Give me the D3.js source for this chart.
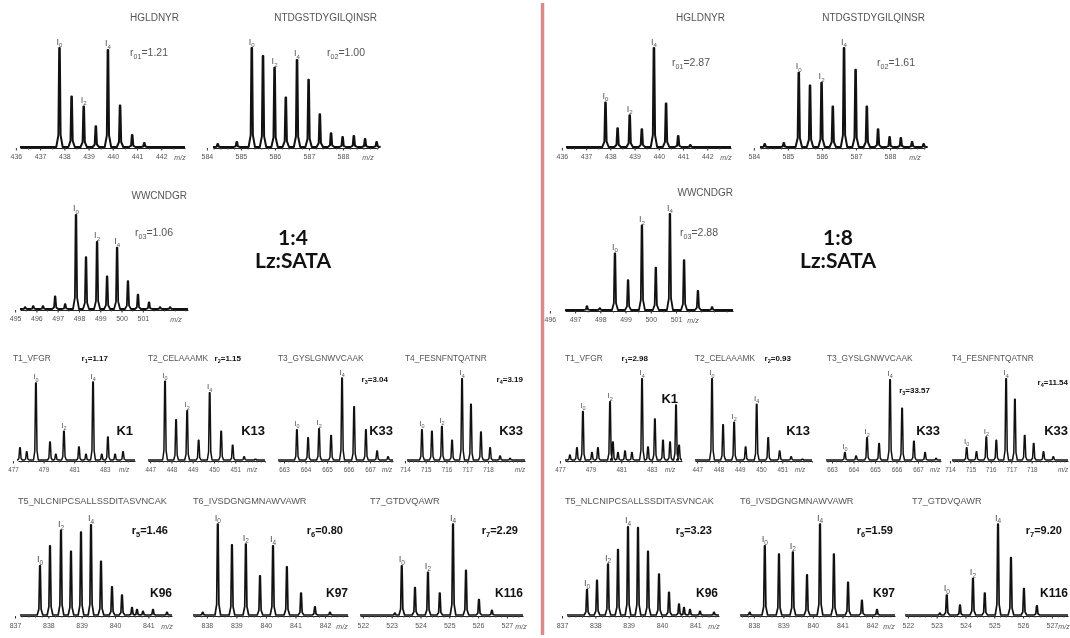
<!DOCTYPE html>
<html>
<head>
<meta charset="utf-8">
<script src="https://cdn.jsdelivr.net/npm/d3@7"></script>
<style>
  body { margin: 0; background: #fff; }
  svg { display: block; will-change: transform; }
</style>
</head>
<body>
<svg id="fig" width="1070" height="638"></svg>
<script>
// peptide names, ratios and modified sites
const peptides = ['HGLDNYR', 'NTDGSTDYGILQINSR', 'WWCNDGR', 'T1_VFGR', 'T2_CELAAAMK', 'T3_GYSLGNWVCAAK',
    'T4_FESNFNTQATNR', 'T5_NLCNIPCSALLSSDITASVNCAK', 'T6_IVSDGNGMNAWVAWR', 'T7_GTDVQAWR'];
const rSubs = ['01', '02', '03', '1', '2', '3', '4', '5', '6', '7'];
const ratios14 = ['1.21', '1.00', '1.06', '1.17', '1.15', '3.04', '3.19', '1.46', '0.80', '2.29'];
const ratios18 = ['2.87', '1.61', '2.88', '2.98', '0.93', '33.57', '11.54', '3.23', '1.59', '9.20'];
const sites = [null, null, null, 'K1', 'K13', 'K33', 'K33', 'K96', 'K97', 'K116'];

// peak m/z values and relative intensities (1:4 = left, 1:8 = right)
const hgMz = [437.8, 438.3, 438.8, 439.3, 439.8, 440.3, 440.8, 441.3];
const hg14 = [100, 51, 41, 21, 98, 42, 12, 4];
const hg18 = [45, 19, 32, 18, 100, 44, 11, 2];

const ntMz = [584.32, 584.88, 585.32, 585.65, 585.99, 586.32, 586.65, 586.99, 587.32, 587.65, 587.99, 588.32, 588.65, 588.99];
const nt14 = [3, 5, 100, 92, 80, 50, 88, 68, 33, 14, 10, 11, 8, 5];
const nt18 = [3, 4, 75, 62, 65, 41, 100, 78, 41, 18, 10, 9, 5, 3];

const wwMz14 = [495.47, 495.85, 496.31, 496.88, 497.35, 497.86, 498.33, 498.85, 499.32, 499.79, 500.3, 500.77, 501.29, 501.81, 502.28];
const ww14 = [2, 3, 3, 13, 5, 98, 54, 70, 34, 64, 29, 15, 7, 2, 2];
const wwMz18 = [497.47, 497.98, 498.58, 499.1, 499.65, 500.2, 500.76, 501.32, 501.87, 502.43];
const ww18 = [4, 2, 59, 31, 88, 44, 100, 52, 20, 3];

const t1Mz14 = [477.46, 477.9, 478.5, 479.42, 479.8, 480.33, 481.31, 481.77, 482.23, 482.8, 483.2, 483.67, 484.19];
const t1_14 = [15, 10, 94, 22, 7, 35, 16, 7, 95, 7, 28, 7, 10];
const t1Mz18 = [477.65, 478.11, 478.5, 479.09, 479.48, 480.27, 480.46, 480.79, 481.25, 481.7, 482.36, 482.75, 483.2, 483.73, 484.19, 484.58, 484.78];
const t1_18 = [6, 15, 59, 9, 15, 71, 22, 9, 11, 9, 99, 16, 50, 24, 22, 67, 18];

const t2Mz = [447.7, 448.22, 448.74, 449.28, 449.8, 450.34, 450.88, 451.42, 451.95];
const t2_14 = [96, 49, 60, 24, 82, 35, 18, 4, 1];
const t2_18 = [99, 43, 46, 16, 68, 27, 11, 4, 1];

const t3Mz = [663.6, 664.12, 664.63, 665.19, 665.7, 666.26, 666.81, 667.33, 667.84];
const t3_14 = [37, 27, 38, 30, 100, 65, 37, 11, 4];
const t3_18 = [9, 5, 27, 20, 98, 63, 23, 9, 2];

const t4Mz = [714.82, 715.3, 715.78, 716.27, 716.75, 717.18, 717.66, 718.1, 718.58, 719.06];
const t4_14 = [37, 35, 41, 24, 99, 68, 34, 15, 5, 2];
const t4_18 = [15, 10, 28, 24, 99, 74, 30, 20, 10, 4];

const t5Mz = [837.75, 838.05, 838.38, 838.68, 838.98, 839.28, 839.58, 839.91, 840.21, 840.51, 840.66, 840.84, 841.14, 841.56];
const t5_14 = [54, 76, 93, 70, 91, 99, 59, 31, 22, 8, 6, 4, 6, 3];
const t5_18 = [28, 38, 56, 72, 97, 96, 70, 45, 25, 12, 8, 6, 4, 3];

const t6Mz = [837.86, 838.37, 838.85, 839.32, 839.8, 840.24, 840.71, 841.19, 841.66, 842.17];
const t6_14 = [3, 100, 77, 78, 43, 76, 53, 24, 9, 3];
const t6_18 = [3, 76, 67, 69, 44, 100, 67, 36, 16, 6];

const t7Mz = [523.11, 523.35, 523.81, 524.26, 524.67, 525.13, 525.58, 526.03, 526.48];
const t7_14 = [2, 54, 30, 47, 24, 100, 49, 17, 5];
const t7_18 = [2, 22, 11, 40, 24, 100, 63, 29, 10];

// which peaks carry the I0 / I2 / I4 labels
const labIdx14 = [[0, 2, 4], [2, 4, 6], [5, 7, 9], [2, 5, 8], [0, 2, 4], [0, 2, 4], [0, 2, 4], [0, 2, 5], [1, 3, 5], [1, 3, 5]];
const labIdx18 = [[0, 2, 4], [2, 4, 6], [2, 4, 6], [2, 5, 10], [0, 2, 4], [0, 2, 4], [0, 2, 4], [0, 2, 4], [1, 3, 5], [1, 3, 5]];

// x axis ticks and m/z windows
const hgTicks = [436, 437, 438, 439, 440, 441, 442];
const ntTicks = [584, 585, 586, 587, 588];
const wwTicks14 = [495, 496, 497, 498, 499, 500, 501];
const wwTicks18 = [496, 497, 498, 499, 500, 501];
const t1Ticks = [477, 479, 481, 483];
const t2Ticks = [447, 448, 449, 450, 451];
const t3Ticks = [663, 664, 665, 666, 667];
const t4Ticks = [714, 715, 716, 717, 718];
const t5Ticks = [837, 838, 839, 840, 841];
const t6Ticks = [838, 839, 840, 841, 842];
const t7Ticks = [522, 523, 524, 525, 526, 527];
const windows14 = [[436.17, 442.98], [584.18, 589.03], [495.23, 503.12], [477.33, 484.97], [446.9, 452.4],
    [662.72, 668.07], [714.1, 719.78], [837.15, 841.71], [837.53, 842.78], [521.9, 527.56]];
const windows18 = windows14.map((w, i) => i === 2 ? [496.6, 503.26] : w);

const mzSets14 = [hgMz, ntMz, wwMz14, t1Mz14, t2Mz, t3Mz, t4Mz, t5Mz, t6Mz, t7Mz];
const mzSets18 = [hgMz, ntMz, wwMz18, t1Mz18, t2Mz, t3Mz, t4Mz, t5Mz, t6Mz, t7Mz];
const int14 = [hg14, nt14, ww14, t1_14, t2_14, t3_14, t4_14, t5_14, t6_14, t7_14];
const int18 = [hg18, nt18, ww18, t1_18, t2_18, t3_18, t4_18, t5_18, t6_18, t7_18];
const ticks14 = [hgTicks, ntTicks, wwTicks14, t1Ticks, t2Ticks, t3Ticks, t4Ticks, t5Ticks, t6Ticks, t7Ticks];
const ticks18 = [hgTicks, ntTicks, wwTicks18, t1Ticks, t2Ticks, t3Ticks, t4Ticks, t5Ticks, t6Ticks, t7Ticks];

// ---- layout (pixels) ----
// r: [x0, x1], b: baseline, mz: m/z label x, t: title [x, y, anchor], q: ratio [x, y, anchor], k: site [x, y]
const layoutL = [
    {r: [20, 185], b: 147, mz: 180, t: [179, 21, 'end'], q: [130, 56, 'start']},
    {r: [213, 378], b: 147, mz: 368, t: [377, 21, 'end'], q: [327, 56, 'start']},
    {r: [20, 188], b: 309, mz: 176, t: [187, 199, 'end'], q: [135, 236, 'start']},
    {r: [18, 135], b: 460, mz: 124, t: [13, 361, 'start'], q: [108, 361, 'end'], k: [133, 435]},
    {r: [148, 265], b: 460, mz: 252, t: [148, 361, 'start'], q: [241, 361, 'end'], k: [265, 435]},
    {r: [278, 393], b: 460, mz: 387, t: [278, 361, 'start'], q: [388, 382, 'end'], k: [393, 435]},
    {r: [407, 525], b: 460, mz: 520, t: [405, 361, 'start'], q: [523, 382, 'end'], k: [523, 435]},
    {r: [20, 172], b: 615, mz: 167, t: [18, 504, 'start'], q: [168, 534, 'end'], k: [172, 597]},
    {r: [193, 348], b: 615, mz: 342, t: [193, 504, 'start'], q: [343, 534, 'end'], k: [348, 597]},
    {r: [360, 523], b: 615, mz: 521, t: [370, 504, 'start'], q: [518, 534, 'end'], k: [523, 597]}
];
const layoutR = [
    {r: [566, 731], b: 147, mz: 726, t: [725, 21, 'end'], q: [672, 66, 'start']},
    {r: [760, 925], b: 147, mz: 915, t: [925, 21, 'end'], q: [877, 66, 'start']},
    {r: [565, 733], b: 310, mz: 693, t: [733, 196, 'end'], q: [680, 236, 'start']},
    {r: [565, 682], b: 460, mz: 670, t: [565, 361, 'start'], q: [648, 361, 'end'], k: [678, 403]},
    {r: [695, 812], b: 460, mz: 800, t: [695, 361, 'start'], q: [791, 361, 'end'], k: [810, 435]},
    {r: [826, 941], b: 460, mz: 935, t: [827, 361, 'start'], q: [930, 393, 'end'], k: [940, 435]},
    {r: [952, 1068], b: 460, mz: 1063, t: [952, 361, 'start'], q: [1068, 385, 'end'], k: [1068, 435]},
    {r: [567, 719], b: 615, mz: 714, t: [565, 504, 'start'], q: [712, 534, 'end'], k: [718, 597]},
    {r: [740, 895], b: 615, mz: 889, t: [740, 504, 'start'], q: [893, 534, 'end'], k: [895, 597]},
    {r: [905, 1068], b: 615, mz: 1064, t: [912, 504, 'start'], q: [1062, 534, 'end'], k: [1068, 597]}
];
const rowStyles = [
    {h: 99, sw: 2.0, hw: 3.2, tfs: 10, qfs: 10.5, qb: false, kfs: 0, lfs: 7, ifs: 9, pad: 4},
    {h: 96, sw: 1.8, hw: 3.0, tfs: 10, qfs: 10.5, qb: false, kfs: 0, lfs: 7, ifs: 9, pad: 4},
    {h: 82, sw: 1.5, hw: 2.4, tfs: 8.4, qfs: 8, qb: true, kfs: 13, lfs: 6.3, ifs: 8, pad: 4},
    {h: 91, sw: 1.7, hw: 2.8, tfs: 9.2, qfs: 11, qb: true, kfs: 12, lfs: 7, ifs: 9.5, pad: 5}
];
const rowOf = i => i < 2 ? 0 : i === 2 ? 1 : i < 7 ? 2 : 3;
const FONT = '"Liberation Sans", Arial, sans-serif';

const svg = d3.select('#fig');
svg.append('rect').attr('width', 1070).attr('height', 638).attr('fill', '#fff');

function subText(sel, fs, main, sub, rest) {
    sel.append('tspan').text(main);
    sel.append('tspan').attr('font-size', fs * 0.68).attr('dy', fs * 0.28).text(sub);
    if (rest) sel.append('tspan').attr('dy', -fs * 0.28).text(rest);
}

function drawPanel(i, side) {
    const L = side === 'L' ? layoutL[i] : layoutR[i];
    const st = rowStyles[rowOf(i)];
    const mz = side === 'L' ? mzSets14[i] : mzSets18[i];
    const ints = side === 'L' ? int14[i] : int18[i];
    const lab = side === 'L' ? labIdx14[i] : labIdx18[i];
    const ticks = side === 'L' ? ticks14[i] : ticks18[i];
    const win = side === 'L' ? windows14[i] : windows18[i];
    const ratio = side === 'L' ? ratios14[i] : ratios18[i];

    const x = d3.scaleLinear().domain(win).range(L.r);
    const y = d3.scaleLinear().domain([0, 100]).range([L.b, L.b - st.h]);
    const g = svg.append('g').attr('font-family', FONT);

    // axis
    g.append('g')
        .attr('transform', `translate(0,${L.b + 1})`)
        .call(d3.axisBottom(x).ticks(18).tickSize(1.5).tickSizeOuter(0).tickFormat(''))
        .call(a => a.select('.domain').attr('stroke', '#222').attr('stroke-width', 1))
        .call(a => a.selectAll('.tick line').attr('stroke', '#444'));
    g.append('g')
        .attr('transform', `translate(0,${L.b + 1})`)
        .call(d3.axisBottom(x).tickValues(ticks).tickSize(2.5).tickPadding(st.pad).tickFormat(d3.format('d')))
        .call(a => a.select('.domain').remove())
        .call(a => a.selectAll('.tick line').attr('stroke', '#333'))
        .call(a => a.selectAll('.tick text').attr('fill', '#555').attr('font-size', st.lfs).attr('font-family', FONT));
    g.append('text')
        .attr('x', L.mz).attr('y', L.b + 1 + 2.5 + st.pad + st.lfs * 0.71 + 0.5)
        .attr('text-anchor', 'middle').attr('font-size', st.lfs).attr('font-style', 'italic')
        .attr('fill', '#555').text('m/z');

    // spectrum trace
    const pts = [[L.r[0], L.b]];
    mz.forEach((m, j) => {
        const px = x(m), py = y(ints[j]), hh = L.b - py;
        pts.push([px - st.hw, L.b], [px - 1.1, L.b - hh * 0.12], [px - 0.3, py],
            [px + 0.3, py], [px + 1.1, L.b - hh * 0.12], [px + st.hw, L.b]);
    });
    pts.push([L.r[1], L.b]);
    g.append('path')
        .attr('d', d3.line()(pts))
        .attr('fill', 'none').attr('stroke', '#111')
        .attr('stroke-width', st.sw).attr('stroke-linejoin', 'round');

    // isotope labels
    ['0', '2', '4'].forEach((s, k) => {
        const j = lab[k];
        const t = g.append('text')
            .attr('x', x(mz[j])).attr('y', y(ints[j]) - 3.5)
            .attr('text-anchor', 'middle').attr('font-size', st.ifs).attr('fill', '#555');
        subText(t, st.ifs, 'I', s);
    });

    // title
    g.append('text')
        .attr('x', L.t[0]).attr('y', L.t[1]).attr('text-anchor', L.t[2])
        .attr('font-size', st.tfs).attr('fill', '#555').text(peptides[i]);

    // ratio
    const q = g.append('text')
        .attr('x', L.q[0]).attr('y', L.q[1]).attr('text-anchor', L.q[2])
        .attr('font-size', st.qfs).attr('font-weight', st.qb ? 'bold' : 'normal')
        .attr('fill', st.qb ? '#111' : '#555');
    subText(q, st.qfs, 'r', rSubs[i], '=' + ratio);

    // modified lysine
    if (sites[i]) {
        g.append('text')
            .attr('x', L.k[0]).attr('y', L.k[1]).attr('text-anchor', 'end')
            .attr('font-size', st.kfs).attr('font-weight', 'bold').attr('fill', '#111')
            .text(sites[i]);
    }
}

peptides.forEach((p, i) => { drawPanel(i, 'L'); drawPanel(i, 'R'); });

// conditions
const conditions = [['1:4', 'Lz:SATA', 293], ['1:8', 'Lz:SATA', 838]];
conditions.forEach(c => {
    const t = svg.append('text')
        .attr('text-anchor', 'middle').attr('font-family', 'Lato, "Open Sans", sans-serif')
        .attr('font-weight', 'bold').attr('font-size', 21).attr('fill', '#111');
    t.append('tspan').attr('x', c[2]).attr('y', 245).text(c[0]);
    t.append('tspan').attr('x', c[2]).attr('y', 268).text(c[1]);
});

// divider between the two conditions
svg.append('line')
    .attr('x1', 542.5).attr('x2', 542.5).attr('y1', 3).attr('y2', 635)
    .attr('stroke', '#d98a8a').attr('stroke-width', 3.5);
</script>
</body>
</html>
